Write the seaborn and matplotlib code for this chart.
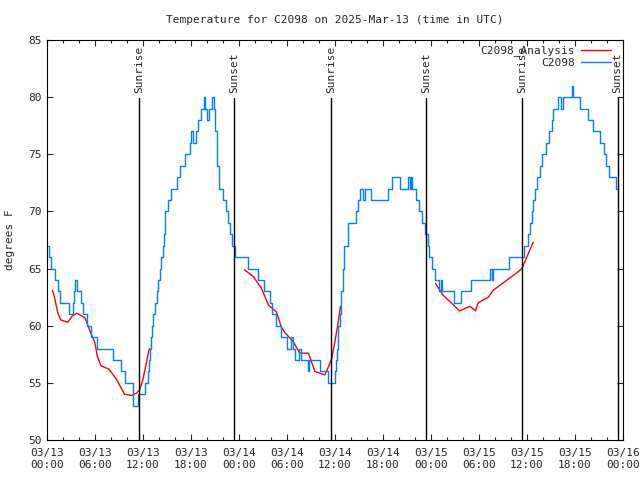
import numpy as np
import pandas as pd
import matplotlib
matplotlib.use('Agg')
import matplotlib.pyplot as plt
import matplotlib.dates as mdates
from matplotlib.lines import Line2D
import seaborn as sns

# Observed station temperature (hours after 2025-03-13 00:00 UTC, degrees F)
obs_hours = [0.0, 0.2, 0.5, 1.0, 1.4, 1.6, 2.75, 3.2, 3.35, 3.5, 3.7, 4.2, 4.5, 5.0, 5.5, 6.3,
             8.3, 9.3, 9.75, 10.75, 11.35, 12.2, 12.6, 12.75, 12.9, 13.0, 13.15, 13.3, 13.5,
             13.7, 13.9, 14.1, 14.3, 14.45, 14.6, 14.75, 15.1, 15.5, 16.3, 16.6, 17.2, 17.9,
             18.05, 18.3, 18.6, 18.9, 19.25, 19.6, 19.8, 20.0, 20.3, 20.6, 20.85, 21.0, 21.3,
             21.55, 22.0, 22.4, 22.7, 22.9, 23.1, 23.5, 25.2, 26.4, 27.2, 27.9, 28.2, 28.6,
             29.3, 30.0, 30.5, 30.75, 31.0, 31.5, 31.75, 32.6, 32.75, 34.2, 35.1, 36.05, 36.15,
             36.25, 36.35, 36.45, 36.6, 36.8, 37.0, 37.2, 37.7, 38.6, 38.9, 39.2, 39.5, 39.8,
             40.5, 42.7, 43.1, 44.1, 45.2, 45.35, 45.5, 45.7, 46.2, 46.5, 46.9, 47.3, 47.6,
             47.8, 48.1, 48.5, 49.0, 49.3, 49.4, 50.9, 51.8, 53.0, 55.4, 55.6, 55.75, 57.8,
             59.7, 60.1, 60.4, 60.6, 60.8, 61.0, 61.3, 61.6, 61.9, 62.4, 62.8, 63.1, 63.3,
             63.9, 64.3, 64.55, 65.65, 65.8, 66.7, 67.7, 68.3, 69.1, 69.6, 69.9, 70.3, 71.2,
             71.4]
obs_temps = [67, 66, 65, 64, 63, 62, 61, 62, 63, 64, 63, 62, 61, 60, 59, 58,
             57, 56, 55, 53, 54, 55, 56, 57, 58, 59, 60, 61, 62,
             63, 64, 65, 66, 67, 68, 70, 71, 72, 73, 74, 75, 76,
             77, 76, 77, 78, 79, 80, 79, 78, 79, 80, 79, 77, 74,
             72, 71, 70, 69, 68, 67, 66, 65, 64, 63, 62, 61, 60,
             59, 58, 59, 58, 57, 58, 57, 56, 57, 56, 55, 56, 57,
             58, 59, 60, 61, 63, 65, 67, 69, 70, 71, 72, 71, 72,
             71, 72, 73, 72, 73, 72, 73, 72, 71, 70, 69, 68, 67,
             66, 65, 64, 63, 64, 63, 62, 63, 64, 65, 64, 65, 66,
             67, 68, 69, 70, 71, 72, 73, 74, 75, 76, 77, 78, 79,
             80, 79, 80, 81, 80, 79, 78, 77, 76, 75, 74, 73, 72,
             72]

# Analysis series, three separate segments
ana_hours = [[0.67, 0.9, 1.4, 1.75, 2.6, 3.1, 3.7, 4.75, 5.4, 6.0, 6.3, 6.75, 7.75, 8.7,
              9.7, 10.6, 11.2, 11.6, 12.0, 12.5, 12.8],
             [24.7, 25.8, 26.8, 27.7, 28.7, 29.3, 29.75, 30.8, 31.6, 32.7, 33.5, 34.75,
              35.2, 35.6, 36.0, 36.4, 36.7],
             [48.6, 49.5, 50.4, 51.6, 52.9, 53.6, 53.9, 55.2, 55.8, 57.25, 58.7, 59.4,
              60.0, 60.8]]
ana_temps = [[63.1, 62.6, 61.0, 60.5, 60.3, 60.8, 61.1, 60.7, 59.5, 58.5, 57.3, 56.5, 56.2,
              55.3, 54.0, 53.9, 54.1, 54.4, 55.3, 57.0, 58.0],
             [64.9, 64.3, 63.3, 61.8, 61.2, 59.9, 59.4, 58.6, 57.6, 57.6, 56.0, 55.7, 56.4,
              57.1, 58.6, 60.2, 61.7],
             [63.7, 62.7, 62.1, 61.3, 61.7, 61.3, 62.0, 62.5, 63.1, 63.85, 64.6, 65.0, 66.0,
              67.3]]

sunrise_times = ['2025-03-13 11:32', '2025-03-14 11:30', '2025-03-15 11:28']
sunset_times = ['2025-03-13 23:25', '2025-03-14 23:23', '2025-03-15 23:21']

base = pd.Timestamp('2025-03-13 00:00')

obs = pd.DataFrame({'time': base + pd.to_timedelta(obs_hours, unit='h'), 'temp': obs_temps})

sns.set_style('ticks')
plt.rcParams['font.family'] = ['DejaVu Sans Mono']
plt.rcParams['font.size'] = 8

fig = plt.figure(figsize=(6.4, 4.8), dpi=100)
ax = fig.add_axes([0.0734, 0.0833, 0.8996, 0.8334])

red = '#ff0000'
blue = '#0080ff'

for h, t in zip(ana_hours, ana_temps):
    seg = pd.DataFrame({'time': base + pd.to_timedelta(h, unit='h'), 'temp': t})
    sns.lineplot(data=seg, x='time', y='temp', color=red, lw=1, estimator=None, sort=False, ax=ax)

sns.lineplot(data=obs, x='time', y='temp', color=blue, lw=1, estimator=None, sort=False,
             drawstyle='steps-post', ax=ax)

# sun lines with labels
for label, times in [('Sunrise', sunrise_times), ('Sunset', sunset_times)]:
    for t in times:
        ts = pd.Timestamp(t)
        ax.plot([ts, ts], [50, 79.9], color='black', lw=1)
        ax.text(ts, 80.4, label, rotation=90, ha='center', va='bottom', fontsize=8)

ax.set_xlim(base, base + pd.Timedelta(hours=72))
ax.set_ylim(50, 85)
ax.set_yticks(np.arange(50, 86, 5))
ax.xaxis.set_major_locator(mdates.HourLocator(byhour=[0, 6, 12, 18]))
ax.xaxis.set_minor_locator(mdates.HourLocator(byhour=range(0, 24, 2)))
ax.xaxis.set_major_formatter(mdates.DateFormatter('%m/%d\n%H:%M'))
ax.tick_params(which='both', direction='in', top=True, right=True, labelsize=8, width=0.8)
ax.tick_params(which='major', length=4.5)
ax.tick_params(which='minor', length=2.5)
ax.tick_params(axis='x', which='major', pad=6)
for s in ax.spines.values():
    s.set_linewidth(0.8)
    s.set_color('black')

ax.set_xlabel('')
ax.set_ylabel('degrees F', fontsize=8)
ax.yaxis.set_label_coords(-0.055, 0.5)
ax.set_title('Temperature for C2098 on 2025-Mar-13 (time in UTC)', fontsize=8, pad=12)

handles = [Line2D([], [], color=red, lw=1), Line2D([], [], color=blue, lw=1)]
ax.legend(handles, ['C2098_Analysis', 'C2098'], loc='upper right', frameon=False,
          markerfirst=False, fontsize=8, handlelength=2.7, labelspacing=0.1,
          borderaxespad=0.1, handletextpad=0.6, bbox_to_anchor=(0.99, 1.0))

fig.savefig('out.png', dpi=100)
